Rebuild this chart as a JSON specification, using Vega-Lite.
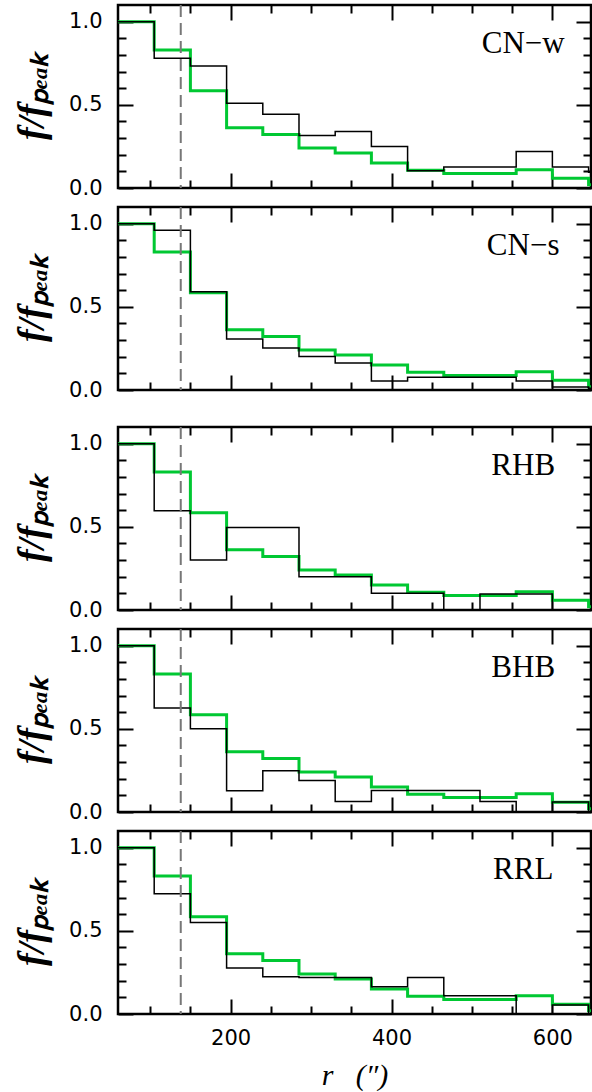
{
  "$schema": "https://vega.github.io/schema/vega-lite/v6.json",
  "padding": {"left": 11, "top": 2, "right": 0, "bottom": 0},
  "background": "white",
  "config": {
    "view": {"stroke": "black", "strokeWidth": 2.5},
    "axis": {
      "domain": false, "grid": false, "tickColor": "black", "tickWidth": 2,
      "labelFont": "DejaVu Sans", "labelFontSize": 21, "labelColor": "black",
      "labelFlush": false, "labelOverlap": false, "labelBound": false,
      "titleColor": "black"
    }
  },
  "datasets": {
    "green": [
      {"r": 60, "f": 1.0}, {"r": 105, "f": 0.83}, {"r": 150, "f": 0.585}, {"r": 195, "f": 0.362},
      {"r": 240, "f": 0.322}, {"r": 285, "f": 0.24}, {"r": 330, "f": 0.21}, {"r": 375, "f": 0.15},
      {"r": 420, "f": 0.106}, {"r": 465, "f": 0.087}, {"r": 510, "f": 0.087}, {"r": 555, "f": 0.11},
      {"r": 600, "f": 0.058}, {"r": 645, "f": 0.02}, {"r": 690, "f": 0.02}
    ],
    "black": [
      {"panel": "CNw", "r": 60, "f": 1.0}, {"panel": "CNw", "r": 105, "f": 0.78}, {"panel": "CNw", "r": 150, "f": 0.734},
      {"panel": "CNw", "r": 195, "f": 0.51}, {"panel": "CNw", "r": 240, "f": 0.444}, {"panel": "CNw", "r": 285, "f": 0.316},
      {"panel": "CNw", "r": 330, "f": 0.34}, {"panel": "CNw", "r": 375, "f": 0.25}, {"panel": "CNw", "r": 420, "f": 0.104},
      {"panel": "CNw", "r": 465, "f": 0.126}, {"panel": "CNw", "r": 510, "f": 0.126}, {"panel": "CNw", "r": 555, "f": 0.22},
      {"panel": "CNw", "r": 600, "f": 0.126}, {"panel": "CNw", "r": 645, "f": 0.094}, {"panel": "CNw", "r": 690, "f": 0.094},

      {"panel": "CNs", "r": 60, "f": 1.0}, {"panel": "CNs", "r": 105, "f": 0.96}, {"panel": "CNs", "r": 150, "f": 0.59},
      {"panel": "CNs", "r": 195, "f": 0.306}, {"panel": "CNs", "r": 240, "f": 0.252}, {"panel": "CNs", "r": 285, "f": 0.202},
      {"panel": "CNs", "r": 330, "f": 0.163}, {"panel": "CNs", "r": 375, "f": 0.054}, {"panel": "CNs", "r": 420, "f": 0.077},
      {"panel": "CNs", "r": 465, "f": 0.077}, {"panel": "CNs", "r": 510, "f": 0.077}, {"panel": "CNs", "r": 555, "f": 0.054},
      {"panel": "CNs", "r": 600, "f": 0.018}, {"panel": "CNs", "r": 645, "f": 0.01}, {"panel": "CNs", "r": 690, "f": 0.01},

      {"panel": "RHB", "r": 60, "f": 1.0}, {"panel": "RHB", "r": 105, "f": 0.596}, {"panel": "RHB", "r": 150, "f": 0.30},
      {"panel": "RHB", "r": 195, "f": 0.496}, {"panel": "RHB", "r": 240, "f": 0.496}, {"panel": "RHB", "r": 285, "f": 0.2},
      {"panel": "RHB", "r": 330, "f": 0.2}, {"panel": "RHB", "r": 375, "f": 0.1}, {"panel": "RHB", "r": 420, "f": 0.1},
      {"panel": "RHB", "r": 465, "f": 0.0}, {"panel": "RHB", "r": 510, "f": 0.096}, {"panel": "RHB", "r": 555, "f": 0.096},
      {"panel": "RHB", "r": 600, "f": 0.0}, {"panel": "RHB", "r": 645, "f": 0.0}, {"panel": "RHB", "r": 690, "f": 0.0},

      {"panel": "BHB", "r": 60, "f": 1.0}, {"panel": "BHB", "r": 105, "f": 0.625}, {"panel": "BHB", "r": 150, "f": 0.5},
      {"panel": "BHB", "r": 195, "f": 0.127}, {"panel": "BHB", "r": 240, "f": 0.248}, {"panel": "BHB", "r": 285, "f": 0.19},
      {"panel": "BHB", "r": 330, "f": 0.063}, {"panel": "BHB", "r": 375, "f": 0.129}, {"panel": "BHB", "r": 420, "f": 0.129},
      {"panel": "BHB", "r": 465, "f": 0.129}, {"panel": "BHB", "r": 510, "f": 0.063}, {"panel": "BHB", "r": 555, "f": 0.0},
      {"panel": "BHB", "r": 600, "f": 0.06}, {"panel": "BHB", "r": 645, "f": 0.0}, {"panel": "BHB", "r": 690, "f": 0.0},

      {"panel": "RRL", "r": 60, "f": 1.0}, {"panel": "RRL", "r": 105, "f": 0.723}, {"panel": "RRL", "r": 150, "f": 0.55},
      {"panel": "RRL", "r": 195, "f": 0.276}, {"panel": "RRL", "r": 240, "f": 0.224}, {"panel": "RRL", "r": 285, "f": 0.22},
      {"panel": "RRL", "r": 330, "f": 0.22}, {"panel": "RRL", "r": 375, "f": 0.164}, {"panel": "RRL", "r": 420, "f": 0.22},
      {"panel": "RRL", "r": 465, "f": 0.11}, {"panel": "RRL", "r": 510, "f": 0.11}, {"panel": "RRL", "r": 555, "f": 0.0},
      {"panel": "RRL", "r": 600, "f": 0.054}, {"panel": "RRL", "r": 645, "f": 0.0}, {"panel": "RRL", "r": 690, "f": 0.0}
    ],
    "one": [{}]
  },
  "spacing": 22,
  "vconcat": [
    {
      "spacing": 4,
      "vconcat": [
        {
          "width": 473, "height": 183,
          "resolve": {"axis": {"x": "independent", "y": "independent"}},
          "layer": [
            {"data": {"name": "green"}, "mark": {"type": "line", "interpolate": "step-after", "color": "#00C832", "strokeWidth": 3, "clip": true},
             "encoding": {
               "x": {"field": "r", "type": "quantitative", "scale": {"domain": [60, 648], "nice": false, "zero": false},
                     "axis": {"orient": "bottom", "values": [100,150,200,250,300,350,400,450,500,550,600], "tickSize": {"condition": {"test": "datum.value % 200 === 0", "value": -15}, "value": -8}, "labels": false, "title": null, "minExtent": 0, "maxExtent": 0}},
               "y": {"field": "f", "type": "quantitative", "scale": {"domain": [0, 1.1], "nice": false},
                     "axis": {"orient": "left", "values": [0,0.1,0.2,0.3,0.4,0.5,0.6,0.7,0.8,0.9,1.0], "tickSize": {"condition": {"test": "datum.value === 0 || datum.value === 0.5 || datum.value === 1", "value": -15}, "value": -8},
                              "labelExpr": "(datum.value === 0 || datum.value === 0.5 || datum.value === 1) ? format(datum.value, '.1f') : ''", "labelPadding": 31,
                              "title": "f/fₚₑₐₖ", "titleFont": "Liberation Serif", "titleFontStyle": "italic", "titleFontWeight": "bold", "titleFontSize": 38, "titleX": -86, "titleBaseline": "middle", "titleAngle": -90}}
             }},
            {"data": {"name": "black"}, "transform": [{"filter": "datum.panel === 'CNw'"}], "mark": {"type": "line", "interpolate": "step-after", "color": "black", "strokeWidth": 1.5, "clip": true},
             "encoding": {
               "x": {"field": "r", "type": "quantitative", "axis": {"orient": "top", "values": [100,150,200,250,300,350,400,450,500,550,600], "tickSize": {"condition": {"test": "datum.value % 200 === 0", "value": -15}, "value": -8}, "labels": false, "title": null, "minExtent": 0, "maxExtent": 0}},
               "y": {"field": "f", "type": "quantitative", "axis": {"orient": "right", "values": [0,0.1,0.2,0.3,0.4,0.5,0.6,0.7,0.8,0.9,1.0], "tickSize": {"condition": {"test": "datum.value === 0 || datum.value === 0.5 || datum.value === 1", "value": -15}, "value": -8}, "labels": false, "title": null, "minExtent": 0, "maxExtent": 0}}
             }},
            {"data": {"name": "one"}, "mark": {"type": "rule", "color": "#777777", "strokeWidth": 2, "strokeDash": [12, 6]},
             "encoding": {"x": {"datum": 138, "type": "quantitative", "axis": null}}},
            {"data": {"name": "one"}, "mark": {"type": "text", "font": "Liberation Serif", "fontSize": 31, "align": "center", "baseline": "alphabetic", "color": "black"},
             "encoding": {"x": {"datum": 563.7, "type": "quantitative", "axis": null}, "y": {"datum": 0.81, "type": "quantitative", "axis": null}, "text": {"value": "CN−w"}}}
          ]
        },
        {
          "width": 473, "height": 183,
          "resolve": {"axis": {"x": "independent", "y": "independent"}},
          "layer": [
            {"data": {"name": "green"}, "mark": {"type": "line", "interpolate": "step-after", "color": "#00C832", "strokeWidth": 3, "clip": true},
             "encoding": {
               "x": {"field": "r", "type": "quantitative", "scale": {"domain": [60, 648], "nice": false, "zero": false},
                     "axis": {"orient": "bottom", "values": [100,150,200,250,300,350,400,450,500,550,600], "tickSize": {"condition": {"test": "datum.value % 200 === 0", "value": -15}, "value": -8}, "labels": false, "title": null, "minExtent": 0, "maxExtent": 0}},
               "y": {"field": "f", "type": "quantitative", "scale": {"domain": [0, 1.1], "nice": false},
                     "axis": {"orient": "left", "values": [0,0.1,0.2,0.3,0.4,0.5,0.6,0.7,0.8,0.9,1.0], "tickSize": {"condition": {"test": "datum.value === 0 || datum.value === 0.5 || datum.value === 1", "value": -15}, "value": -8},
                              "labelExpr": "(datum.value === 0 || datum.value === 0.5 || datum.value === 1) ? format(datum.value, '.1f') : ''", "labelPadding": 31,
                              "title": "f/fₚₑₐₖ", "titleFont": "Liberation Serif", "titleFontStyle": "italic", "titleFontWeight": "bold", "titleFontSize": 38, "titleX": -86, "titleBaseline": "middle", "titleAngle": -90}}
             }},
            {"data": {"name": "black"}, "transform": [{"filter": "datum.panel === 'CNs'"}], "mark": {"type": "line", "interpolate": "step-after", "color": "black", "strokeWidth": 1.5, "clip": true},
             "encoding": {
               "x": {"field": "r", "type": "quantitative", "axis": {"orient": "top", "values": [100,150,200,250,300,350,400,450,500,550,600], "tickSize": {"condition": {"test": "datum.value % 200 === 0", "value": -15}, "value": -8}, "labels": false, "title": null, "minExtent": 0, "maxExtent": 0}},
               "y": {"field": "f", "type": "quantitative", "axis": {"orient": "right", "values": [0,0.1,0.2,0.3,0.4,0.5,0.6,0.7,0.8,0.9,1.0], "tickSize": {"condition": {"test": "datum.value === 0 || datum.value === 0.5 || datum.value === 1", "value": -15}, "value": -8}, "labels": false, "title": null, "minExtent": 0, "maxExtent": 0}}
             }},
            {"data": {"name": "one"}, "mark": {"type": "rule", "color": "#777777", "strokeWidth": 2, "strokeDash": [12, 6]},
             "encoding": {"x": {"datum": 138, "type": "quantitative", "axis": null}}},
            {"data": {"name": "one"}, "mark": {"type": "text", "font": "Liberation Serif", "fontSize": 31, "align": "center", "baseline": "alphabetic", "color": "black"},
             "encoding": {"x": {"datum": 563.7, "type": "quantitative", "axis": null}, "y": {"datum": 0.81, "type": "quantitative", "axis": null}, "text": {"value": "CN−s"}}}
          ]
        }
      ]
    },
    {
      "spacing": 4,
      "vconcat": [
        {
          "width": 473, "height": 183,
          "resolve": {"axis": {"x": "independent", "y": "independent"}},
          "layer": [
            {"data": {"name": "green"}, "mark": {"type": "line", "interpolate": "step-after", "color": "#00C832", "strokeWidth": 3, "clip": true},
             "encoding": {
               "x": {"field": "r", "type": "quantitative", "scale": {"domain": [60, 648], "nice": false, "zero": false},
                     "axis": {"orient": "bottom", "values": [100,150,200,250,300,350,400,450,500,550,600], "tickSize": {"condition": {"test": "datum.value % 200 === 0", "value": -15}, "value": -8}, "labels": false, "title": null, "minExtent": 0, "maxExtent": 0}},
               "y": {"field": "f", "type": "quantitative", "scale": {"domain": [0, 1.1], "nice": false},
                     "axis": {"orient": "left", "values": [0,0.1,0.2,0.3,0.4,0.5,0.6,0.7,0.8,0.9,1.0], "tickSize": {"condition": {"test": "datum.value === 0 || datum.value === 0.5 || datum.value === 1", "value": -15}, "value": -8},
                              "labelExpr": "(datum.value === 0 || datum.value === 0.5 || datum.value === 1) ? format(datum.value, '.1f') : ''", "labelPadding": 31,
                              "title": "f/fₚₑₐₖ", "titleFont": "Liberation Serif", "titleFontStyle": "italic", "titleFontWeight": "bold", "titleFontSize": 38, "titleX": -86, "titleBaseline": "middle", "titleAngle": -90}}
             }},
            {"data": {"name": "black"}, "transform": [{"filter": "datum.panel === 'RHB'"}], "mark": {"type": "line", "interpolate": "step-after", "color": "black", "strokeWidth": 1.5, "clip": true},
             "encoding": {
               "x": {"field": "r", "type": "quantitative", "axis": {"orient": "top", "values": [100,150,200,250,300,350,400,450,500,550,600], "tickSize": {"condition": {"test": "datum.value % 200 === 0", "value": -15}, "value": -8}, "labels": false, "title": null, "minExtent": 0, "maxExtent": 0}},
               "y": {"field": "f", "type": "quantitative", "axis": {"orient": "right", "values": [0,0.1,0.2,0.3,0.4,0.5,0.6,0.7,0.8,0.9,1.0], "tickSize": {"condition": {"test": "datum.value === 0 || datum.value === 0.5 || datum.value === 1", "value": -15}, "value": -8}, "labels": false, "title": null, "minExtent": 0, "maxExtent": 0}}
             }},
            {"data": {"name": "one"}, "mark": {"type": "rule", "color": "#777777", "strokeWidth": 2, "strokeDash": [12, 6]},
             "encoding": {"x": {"datum": 138, "type": "quantitative", "axis": null}}},
            {"data": {"name": "one"}, "mark": {"type": "text", "font": "Liberation Serif", "fontSize": 31, "align": "center", "baseline": "alphabetic", "color": "black"},
             "encoding": {"x": {"datum": 563.7, "type": "quantitative", "axis": null}, "y": {"datum": 0.81, "type": "quantitative", "axis": null}, "text": {"value": "RHB"}}}
          ]
        },
        {
          "width": 473, "height": 183,
          "resolve": {"axis": {"x": "independent", "y": "independent"}},
          "layer": [
            {"data": {"name": "green"}, "mark": {"type": "line", "interpolate": "step-after", "color": "#00C832", "strokeWidth": 3, "clip": true},
             "encoding": {
               "x": {"field": "r", "type": "quantitative", "scale": {"domain": [60, 648], "nice": false, "zero": false},
                     "axis": {"orient": "bottom", "values": [100,150,200,250,300,350,400,450,500,550,600], "tickSize": {"condition": {"test": "datum.value % 200 === 0", "value": -15}, "value": -8}, "labels": false, "title": null, "minExtent": 0, "maxExtent": 0}},
               "y": {"field": "f", "type": "quantitative", "scale": {"domain": [0, 1.1], "nice": false},
                     "axis": {"orient": "left", "values": [0,0.1,0.2,0.3,0.4,0.5,0.6,0.7,0.8,0.9,1.0], "tickSize": {"condition": {"test": "datum.value === 0 || datum.value === 0.5 || datum.value === 1", "value": -15}, "value": -8},
                              "labelExpr": "(datum.value === 0 || datum.value === 0.5 || datum.value === 1) ? format(datum.value, '.1f') : ''", "labelPadding": 31,
                              "title": "f/fₚₑₐₖ", "titleFont": "Liberation Serif", "titleFontStyle": "italic", "titleFontWeight": "bold", "titleFontSize": 38, "titleX": -86, "titleBaseline": "middle", "titleAngle": -90}}
             }},
            {"data": {"name": "black"}, "transform": [{"filter": "datum.panel === 'BHB'"}], "mark": {"type": "line", "interpolate": "step-after", "color": "black", "strokeWidth": 1.5, "clip": true},
             "encoding": {
               "x": {"field": "r", "type": "quantitative", "axis": {"orient": "top", "values": [100,150,200,250,300,350,400,450,500,550,600], "tickSize": {"condition": {"test": "datum.value % 200 === 0", "value": -15}, "value": -8}, "labels": false, "title": null, "minExtent": 0, "maxExtent": 0}},
               "y": {"field": "f", "type": "quantitative", "axis": {"orient": "right", "values": [0,0.1,0.2,0.3,0.4,0.5,0.6,0.7,0.8,0.9,1.0], "tickSize": {"condition": {"test": "datum.value === 0 || datum.value === 0.5 || datum.value === 1", "value": -15}, "value": -8}, "labels": false, "title": null, "minExtent": 0, "maxExtent": 0}}
             }},
            {"data": {"name": "one"}, "mark": {"type": "rule", "color": "#777777", "strokeWidth": 2, "strokeDash": [12, 6]},
             "encoding": {"x": {"datum": 138, "type": "quantitative", "axis": null}}},
            {"data": {"name": "one"}, "mark": {"type": "text", "font": "Liberation Serif", "fontSize": 31, "align": "center", "baseline": "alphabetic", "color": "black"},
             "encoding": {"x": {"datum": 563.7, "type": "quantitative", "axis": null}, "y": {"datum": 0.81, "type": "quantitative", "axis": null}, "text": {"value": "BHB"}}}
          ]
        },
        {
          "width": 473, "height": 183,
          "resolve": {"axis": {"x": "independent", "y": "independent"}},
          "layer": [
            {"data": {"name": "green"}, "mark": {"type": "line", "interpolate": "step-after", "color": "#00C832", "strokeWidth": 3, "clip": true},
             "encoding": {
               "x": {"field": "r", "type": "quantitative", "scale": {"domain": [60, 648], "nice": false, "zero": false},
                     "axis": {"orient": "bottom", "values": [100,150,200,250,300,350,400,450,500,550,600], "tickSize": {"condition": {"test": "datum.value % 200 === 0", "value": -15}, "value": -8},
                              "labelExpr": "datum.value % 200 === 0 ? format(datum.value, 'd') : ''", "labelPadding": 28,
                              "title": "r\u00a0\u00a0\u00a0(″)", "titleFont": "Liberation Serif", "titleFontStyle": "italic", "titleFontWeight": "normal", "titleFontSize": 30, "titleY": 70, "titleBaseline": "alphabetic"}},
               "y": {"field": "f", "type": "quantitative", "scale": {"domain": [0, 1.1], "nice": false},
                     "axis": {"orient": "left", "values": [0,0.1,0.2,0.3,0.4,0.5,0.6,0.7,0.8,0.9,1.0], "tickSize": {"condition": {"test": "datum.value === 0 || datum.value === 0.5 || datum.value === 1", "value": -15}, "value": -8},
                              "labelExpr": "(datum.value === 0 || datum.value === 0.5 || datum.value === 1) ? format(datum.value, '.1f') : ''", "labelPadding": 31,
                              "title": "f/fₚₑₐₖ", "titleFont": "Liberation Serif", "titleFontStyle": "italic", "titleFontWeight": "bold", "titleFontSize": 38, "titleX": -86, "titleBaseline": "middle", "titleAngle": -90}}
             }},
            {"data": {"name": "black"}, "transform": [{"filter": "datum.panel === 'RRL'"}], "mark": {"type": "line", "interpolate": "step-after", "color": "black", "strokeWidth": 1.5, "clip": true},
             "encoding": {
               "x": {"field": "r", "type": "quantitative", "axis": {"orient": "top", "values": [100,150,200,250,300,350,400,450,500,550,600], "tickSize": {"condition": {"test": "datum.value % 200 === 0", "value": -15}, "value": -8}, "labels": false, "title": null, "minExtent": 0, "maxExtent": 0}},
               "y": {"field": "f", "type": "quantitative", "axis": {"orient": "right", "values": [0,0.1,0.2,0.3,0.4,0.5,0.6,0.7,0.8,0.9,1.0], "tickSize": {"condition": {"test": "datum.value === 0 || datum.value === 0.5 || datum.value === 1", "value": -15}, "value": -8}, "labels": false, "title": null, "minExtent": 0, "maxExtent": 0}}
             }},
            {"data": {"name": "one"}, "mark": {"type": "rule", "color": "#777777", "strokeWidth": 2, "strokeDash": [12, 6]},
             "encoding": {"x": {"datum": 138, "type": "quantitative", "axis": null}}},
            {"data": {"name": "one"}, "mark": {"type": "text", "font": "Liberation Serif", "fontSize": 31, "align": "center", "baseline": "alphabetic", "color": "black"},
             "encoding": {"x": {"datum": 563.7, "type": "quantitative", "axis": null}, "y": {"datum": 0.81, "type": "quantitative", "axis": null}, "text": {"value": "RRL"}}}
          ]
        }
      ]
    }
  ]
}
